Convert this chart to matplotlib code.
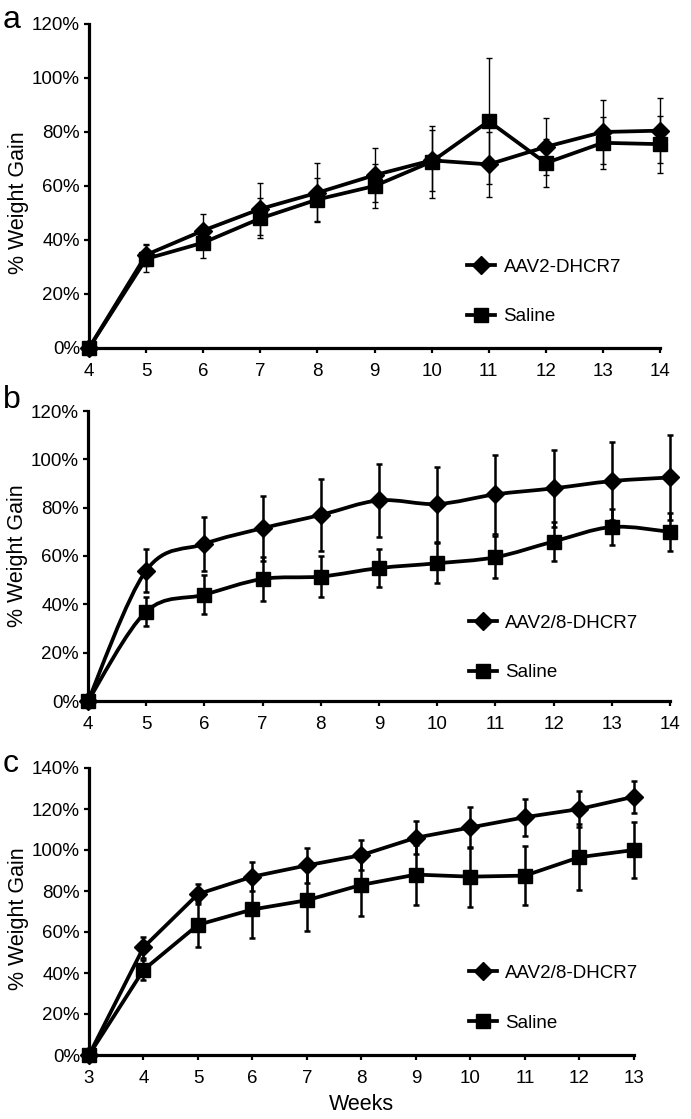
import matplotlib
matplotlib.use("Agg")
import matplotlib.pyplot as plt
from matplotlib.path import Path
from matplotlib.patches import PathPatch
from matplotlib.lines import Line2D
import numpy as np

plt.rcParams['font.family'] = ['Liberation Sans', 'DejaVu Sans']

# ---------------- data ----------------
weeks_ab = [4, 5, 6, 7, 8, 9, 10, 11, 12, 13, 14]
weeks_c = [3, 4, 5, 6, 7, 8, 9, 10, 11, 12, 13]

aav2_a = [0, 34.5, 43.5, 51.5, 57.5, 64, 69.5, 68, 74.5, 80, 80.5]
aav2_a_err = [0, 4, 6, 9.5, 11, 10, 11.4, 12, 10.5, 11.7, 12]
saline_a = [0, 33, 39, 48, 55, 60, 69, 84, 68.5, 76, 75.5]
saline_a_err = [0, 5, 5.6, 7.4, 8, 8, 13.3, 23.4, 9, 9.7, 10.5]

aav28_b = [0, 54, 65, 71.5, 77, 83, 81.5, 85.5, 88, 91, 92.5]
aav28_b_err = [0, 9, 11, 13.5, 15, 15, 15.5, 16.5, 16, 16.3, 17.5]
saline_b = [0, 37, 44, 50.5, 51.5, 55, 57, 59.5, 66, 72, 70]
saline_b_err = [0, 6, 8.2, 9, 8.5, 8, 8.2, 8.6, 8, 7.6, 8]

aav28_c = [0, 52.5, 78.5, 87, 92.5, 97.5, 106, 111, 116, 120, 126]
aav28_c_err = [0, 5, 5, 7, 8.6, 7.3, 8, 10, 9, 8.6, 7.8]
saline_c = [0, 41.5, 63.5, 71, 75.5, 83, 88, 87, 87.5, 96.5, 100]
saline_c_err = [0, 5, 11, 14, 15, 15, 14.6, 14.7, 14.5, 16, 13.5]

labels_a = ['AAV2-DHCR7', 'Saline']
labels_bc = ['AAV2/8-DHCR7', 'Saline']
yticks_ab = [0, 20, 40, 60, 80, 100, 120]
yticks_c = [0, 20, 40, 60, 80, 100, 120, 140]

# ---------------- figure ----------------
W, H = 691, 1119
fig = plt.figure(figsize=(W / 100, H / 100), dpi=100)


def ax_rect(left, right, top, bottom):
    return [left / W, 1 - bottom / H, (right - left) / W, (bottom - top) / H]


def smooth_path(x, y):
    pts = np.column_stack([x, y]).astype(float)
    n = len(pts)
    verts = [tuple(pts[0])]
    codes = [Path.MOVETO]
    for i in range(n - 1):
        p0 = pts[max(i - 1, 0)]
        p1 = pts[i]
        p2 = pts[i + 1]
        p3 = pts[min(i + 2, n - 1)]
        c1 = p1 + (p2 - p0) / 6.0
        c2 = p2 - (p3 - p1) / 6.0
        verts += [tuple(c1), tuple(c2), tuple(p2)]
        codes += [Path.CURVE4] * 3
    return Path(verts, codes)


LW = 2.7
MS_SQ = 9.5
MS_D = 9.0


def draw_panel(rect, weeks, s1, e1, s2, e2, labels, yticks, smooth,
               leg_xy, letter, letter_y, ylab_y, elw):
    ax = fig.add_axes(rect)
    ax.set_xlim(weeks[0], weeks[-1])
    ax.set_ylim(0, yticks[-1])
    for sp in ['top', 'right']:
        ax.spines[sp].set_visible(False)
    for sp in ['left', 'bottom']:
        ax.spines[sp].set_linewidth(2.3)
    ax.set_yticks(yticks)
    ax.set_yticklabels([f'{v}%' for v in yticks])
    ax.set_xticks(weeks)
    ax.set_xticklabels([str(w) for w in weeks])
    ax.tick_params(axis='both', labelsize=13.5, width=1.6, length=3.5,
                   direction='out')
    ax.tick_params(axis='y', pad=3)
    ax.tick_params(axis='x', pad=7)

    for s, e in [(s1, e1), (s2, e2)]:
        ax.errorbar(weeks, s, yerr=e, fmt='none', ecolor='black',
                    elinewidth=elw, capsize=2.2, capthick=elw, clip_on=False,
                    zorder=2)
    for s, mk, ms in [(s1, 'D', MS_D), (s2, 's', MS_SQ)]:
        if smooth:
            patch = PathPatch(smooth_path(weeks, s), facecolor='none',
                              edgecolor='black', lw=LW, transform=ax.transData,
                              clip_on=False, zorder=3)
            ax.add_patch(patch)
            ax.plot(weeks, s, linestyle='none', marker=mk, ms=ms,
                    color='black', clip_on=False, zorder=4)
        else:
            ax.plot(weeks, s, linestyle='-', lw=LW, marker=mk, ms=ms,
                    color='black', clip_on=False, zorder=4)

    handles = [Line2D([], [], color='black', lw=LW, marker='D', ms=MS_D),
               Line2D([], [], color='black', lw=LW, marker='s', ms=MS_SQ)]
    ax.legend(handles, labels, loc='center left', bbox_to_anchor=leg_xy,
              frameon=False, fontsize=13.5, handlelength=1.5,
              handletextpad=0.45, labelspacing=1.75, borderpad=0,
              borderaxespad=0)
    ax.set_ylabel('% Weight Gain', fontsize=15.5)
    ax.yaxis.set_label_coords(-0.105 * 571 / (rect[2] * W), ylab_y)
    fig.text(3 / W, 1 - letter_y / H, letter, fontsize=23, va='baseline',
             ha='left')
    return ax


rect_a = ax_rect(89, 660, 24, 348)
rect_b = ax_rect(88, 670, 411, 701)
rect_c = ax_rect(89, 634, 768, 1055)

draw_panel(rect_a, weeks_ab, aav2_a, aav2_a_err, saline_a, saline_a_err,
           labels_a, yticks_ab, False, (0.662, 0.173), 'a', 28, 0.449, 1.0)
draw_panel(rect_b, weeks_ab, aav28_b, aav28_b_err, saline_b, saline_b_err,
           labels_bc, yticks_ab, True, (0.654, 0.183), 'b', 408, 0.50, 1.8)
ax_c = draw_panel(rect_c, weeks_c, aav28_c, aav28_c_err, saline_c,
                  saline_c_err, labels_bc, yticks_c, False, (0.697, 0.197),
                  'c', 772, 0.476, 1.8)
ax_c.set_xlabel('Weeks', fontsize=15.5, labelpad=5)

fig.savefig('out.png', dpi=100)
